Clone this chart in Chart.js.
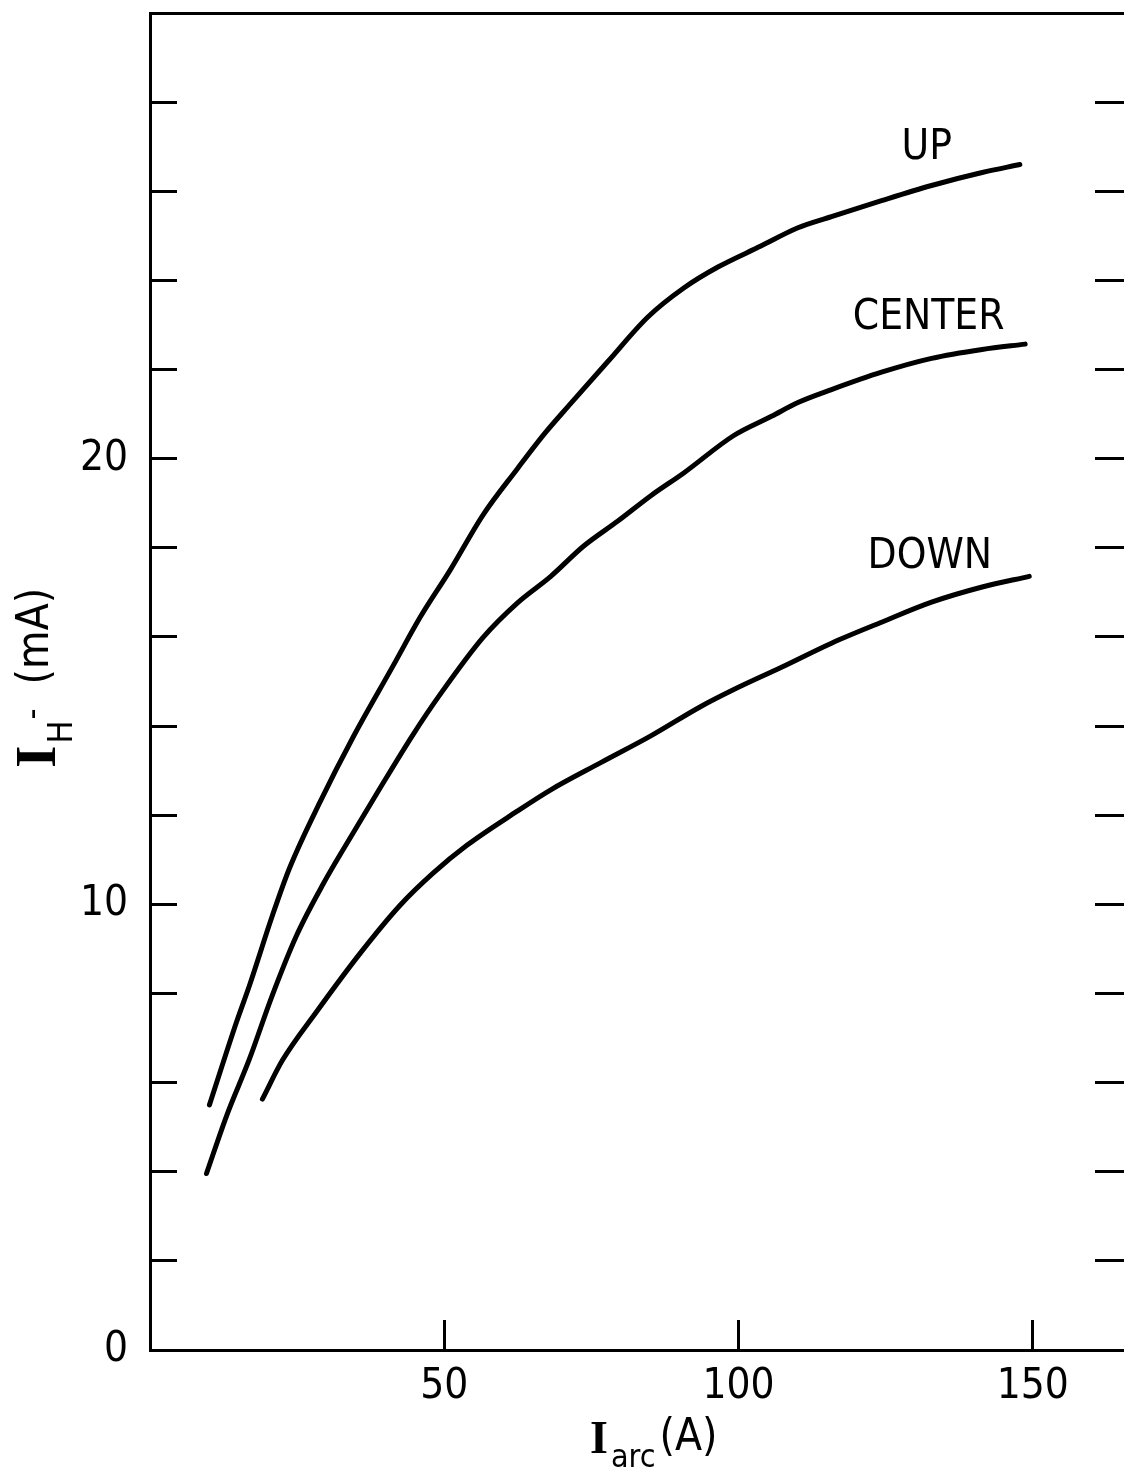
<!DOCTYPE html>
<html>
<head>
<meta charset="utf-8">
<script src="https://cdn.jsdelivr.net/npm/chart.js@4.4.1/dist/chart.umd.min.js"></script>
<style>
  html, body { margin: 0; padding: 0; background: #fff; }
  #wrap { width: 1124px; height: 1472px; position: relative; }
</style>
</head>
<body>
<div id="wrap"><canvas id="chart"></canvas></div>
<script>
// ─── data ───
const upArc   = [10.1, 14.7, 16.9, 20.8, 23.7, 28.9, 34.5, 41.3, 45.9, 51.0, 56.6, 62.4, 66.9, 71.5, 77.8, 84.6, 90.7, 96.5, 103.8, 110.1, 115.8, 124.3, 132.8, 141.4, 147.8];
const upH     = [5.50, 7.36, 8.18, 9.75, 10.81, 12.30, 13.75, 15.35, 16.44, 17.50, 18.74, 19.77, 20.54, 21.24, 22.18, 23.18, 23.83, 24.30, 24.77, 25.18, 25.43, 25.79, 26.13, 26.42, 26.60];

const centerArc = [9.6, 13.0, 16.9, 20.7, 24.9, 29.4, 35.2, 39.1, 44.7, 49.3, 56.6, 62.4, 68.1, 73.7, 79.5, 85.1, 90.7, 99.2, 105.6, 110.1, 115.8, 124.3, 132.8, 141.4, 148.7];
const centerH   = [3.96, 5.25, 6.53, 7.93, 9.30, 10.45, 11.75, 12.61, 13.81, 14.71, 15.99, 16.76, 17.36, 18.04, 18.60, 19.17, 19.68, 20.52, 20.95, 21.26, 21.55, 21.94, 22.25, 22.45, 22.57];

const downArc = [19.1, 22.5, 28.3, 35.7, 42.5, 48.1, 53.9, 62.4, 68.1, 76.6, 85.1, 93.6, 99.2, 107.3, 115.8, 124.3, 132.8, 141.4, 149.4];
const downH   = [5.63, 6.50, 7.59, 8.90, 9.98, 10.70, 11.33, 12.09, 12.57, 13.18, 13.78, 14.44, 14.82, 15.32, 15.86, 16.33, 16.78, 17.12, 17.36];

const curveNames = ['UP', 'CENTER', 'DOWN'];
const nameAtArc  = [132.0, 132.3, 132.5];
const nameAtH    = [26.96, 23.15, 17.79];

const xTicks = [50, 100, 150];
const yTickLabels = [0, 10, 20];

// ─── look ───
const SANS  = '"Liberation Sans Narrow", "DejaVu Sans Condensed", "Arial Narrow", sans-serif';
const SERIF = '"Liberation Serif", "DejaVu Serif", serif';
const INK = '#000';

const pts = (xs, ys) => xs.map((x, i) => ({ x, y: ys[i] }));

function lineSet(label, xs, ys) {
  return {
    label,
    data: pts(xs, ys),
    borderColor: INK,
    borderWidth: 5,
    borderCapStyle: 'round',
    fill: false,
    cubicInterpolationMode: 'monotone',
    pointRadius: 0,
    pointHoverRadius: 0,
  };
}

// curve names + axis titles with sub/superscripts
const annotate = {
  id: 'annotate',
  afterDraw(chart) {
    const { ctx, scales: { x, y } } = chart;
    ctx.save();
    ctx.fillStyle = INK;

    ctx.textAlign = 'center';
    ctx.textBaseline = 'middle';
    ctx.font = `42px ${SANS}`;
    curveNames.forEach((t, i) => {
      ctx.fillText(t, x.getPixelForValue(nameAtArc[i]), y.getPixelForValue(nameAtH[i]));
    });

    // x title: I_arc (A)
    ctx.textAlign = 'left';
    ctx.textBaseline = 'alphabetic';
    let cx = 590;
    ctx.font = `bold 46px ${SERIF}`;
    ctx.fillText('I', cx, 1453);
    cx += ctx.measureText('I').width + 3;
    ctx.font = `32px ${SANS}`;
    ctx.fillText('arc', cx, 1467);
    cx += ctx.measureText('arc').width + 4;
    ctx.font = `44px ${SANS}`;
    ctx.fillText('(A)', cx, 1450);

    // y title: I_H- (mA), rotated
    ctx.translate(55, 768);
    ctx.rotate(-Math.PI / 2);
    let u = 0;
    ctx.font = `bold 58px ${SERIF}`;
    ctx.fillText('I', u, 0);
    u += ctx.measureText('I').width + 2;
    ctx.font = `34px ${SANS}`;
    ctx.fillText('H', u, 17);
    u += ctx.measureText('H').width + 1;
    ctx.fillText('-', u, -12);
    u += ctx.measureText('-').width + 24;
    ctx.font = `44px ${SANS}`;
    ctx.fillText('(mA)', u, -7);
    ctx.restore();
  }
};

const tickFont = { family: SANS, size: 42 };
const inwardTicks = len => ({
  drawOnChartArea: false,
  drawTicks: true,
  tickLength: -len,
  tickWidth: 3,
  tickColor: INK,
});
// pin axis sizes so the plot box sits where the figure has it
const fixX = h => s => { s.height = h; s.paddingLeft = 0; s.paddingRight = 0; };
const fixY = w => s => { s.width = w; s.paddingTop = 0; s.paddingBottom = 0; };

new Chart(document.getElementById('chart'), {
  type: 'line',
  data: {
    datasets: [
      lineSet('UP', upArc, upH),
      lineSet('CENTER', centerArc, centerH),
      lineSet('DOWN', downArc, downH),
    ]
  },
  options: {
    responsive: true,
    maintainAspectRatio: false,
    animation: false,
    events: [],
    layout: { padding: { top: 13, right: 0, bottom: 0, left: 0 } },
    plugins: {
      legend: { display: false },
      tooltip: { enabled: false },
    },
    scales: {
      x: {
        type: 'linear',
        position: 'bottom',
        min: 0,
        max: 165.5,
        afterBuildTicks: s => { s.ticks = [0, ...xTicks].map(v => ({ value: v })); },
        ticks: {
          color: INK,
          font: tickFont,
          padding: 42,
          maxRotation: 0,
          callback: v => (xTicks.includes(v) ? String(v) : ''),
        },
        grid: inwardTicks(30),
        border: { display: true, color: INK, width: 3 },
        afterFit: fixX(122),
      },
      xTop: {
        type: 'linear',
        position: 'top',
        min: 0,
        max: 165.5,
        ticks: { display: false },
        grid: { drawOnChartArea: false, drawTicks: false },
        border: { display: true, color: INK, width: 3 },
        afterFit: fixX(0),
      },
      y: {
        type: 'linear',
        position: 'left',
        min: 0,
        max: 30,
        ticks: {
          stepSize: 2,
          color: INK,
          font: tickFont,
          padding: 49,
          callback: v => (yTickLabels.includes(v) ? String(v) : ''),
        },
        grid: inwardTicks(27),
        border: { display: true, color: INK, width: 3 },
        afterFit: fixY(150),
      },
      yRight: {
        type: 'linear',
        position: 'right',
        min: 0,
        max: 30,
        ticks: { stepSize: 2, display: false },
        grid: inwardTicks(29),
        border: { display: false },
        afterFit: fixY(0),
      },
    }
  },
  plugins: [annotate]
});
</script>
</body>
</html>
